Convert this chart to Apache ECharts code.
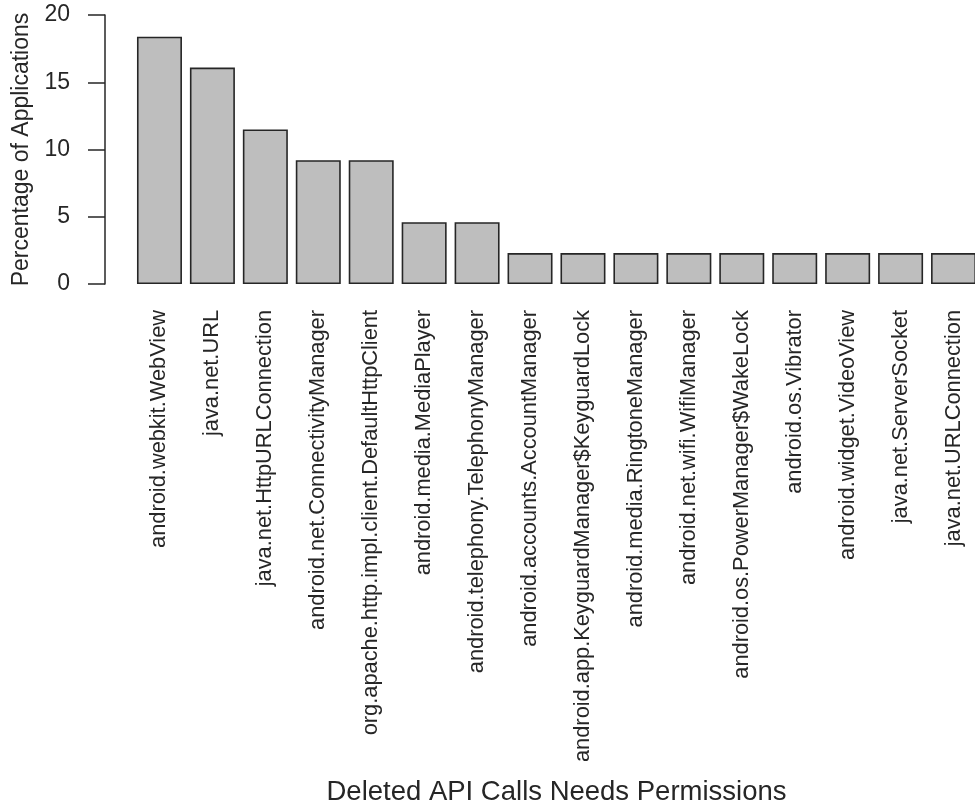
<!DOCTYPE html>
<html>
<head>
<meta charset="utf-8">
<title>Deleted API Calls Needs Permissions</title>
<script src="https://cdn.jsdelivr.net/npm/echarts@6/dist/echarts.min.js"></script>
<style>
  html, body { margin: 0; padding: 0; background: #ffffff; }
  #chart { width: 975px; height: 806px; }
</style>
</head>
<body>
<div id="chart"></div>
<script>
// API classes whose calls were removed, and the share of applications (%) for each
const apiCalls = [
  'android.webkit.WebView',
  'java.net.URL',
  'java.net.HttpURLConnection',
  'android.net.ConnectivityManager',
  'org.apache.http.impl.client.DefaultHttpClient',
  'android.media.MediaPlayer',
  'android.telephony.TelephonyManager',
  'android.accounts.AccountManager',
  'android.app.KeyguardManager$KeyguardLock',
  'android.media.RingtoneManager',
  'android.net.wifi.WifiManager',
  'android.os.PowerManager$WakeLock',
  'android.os.Vibrator',
  'android.widget.VideoView',
  'java.net.ServerSocket',
  'java.net.URLConnection'
];
const percentApps = [18.39, 16.09, 11.49, 9.2, 9.2, 4.6, 4.6, 2.3, 2.3, 2.3, 2.3, 2.3, 2.3, 2.3, 2.3, 2.3];
const yTicks = [0, 5, 10, 15, 20];

const FONT = '"Liberation Sans", Arial, sans-serif';
const INK = '#262626';

const chart = echarts.init(document.getElementById('chart'), null, { renderer: 'canvas' });

chart.setOption({
  backgroundColor: '#ffffff',
  animation: false,
  grid: {
    left: 133, top: 15, width: 847, height: 269,
    containLabel: false,
    outerBoundsMode: 'none'
  },
  xAxis: {
    type: 'category',
    data: apiCalls,
    boundaryGap: true,
    axisLine: { show: false },
    axisTick: { show: false },
    axisLabel: {
      interval: 0,
      rotate: 90,
      margin: 26,
      // extra space on the text's upper side nudges each vertical label a little to the right
      padding: [12, 0, 0, 0],
      fontFamily: FONT,
      fontSize: 21.8,
      color: INK
    },
    name: 'Deleted API Calls Needs Permissions',
    nameLocation: 'middle',
    nameGap: 494,
    nameTextStyle: { fontFamily: FONT, fontSize: 27.5, color: INK }
  },
  yAxis: {
    type: 'value',
    min: yTicks[0],
    max: yTicks[yTicks.length - 1],
    interval: yTicks[1] - yTicks[0],
    offset: 28,
    splitLine: { show: false },
    axisLine: { show: true, lineStyle: { color: INK, width: 1.5 } },
    axisTick: { show: true, inside: false, length: 17, lineStyle: { color: INK, width: 1.5 } },
    axisLabel: {
      margin: 35,
      fontFamily: FONT,
      fontSize: 23,
      color: INK,
      formatter: v => String(v)
    },
    name: 'Percentage of Applications',
    nameLocation: 'middle',
    nameRotate: 90,
    nameGap: 68,
    nameTextStyle: { fontFamily: FONT, fontSize: 23, color: INK }
  },
  series: [{
    type: 'bar',
    data: percentApps,
    barWidth: 45,
    itemStyle: { color: '#bebebe', borderColor: '#262626', borderWidth: 1.6 },
    emphasis: { disabled: true }
  }]
});
</script>
</body>
</html>
